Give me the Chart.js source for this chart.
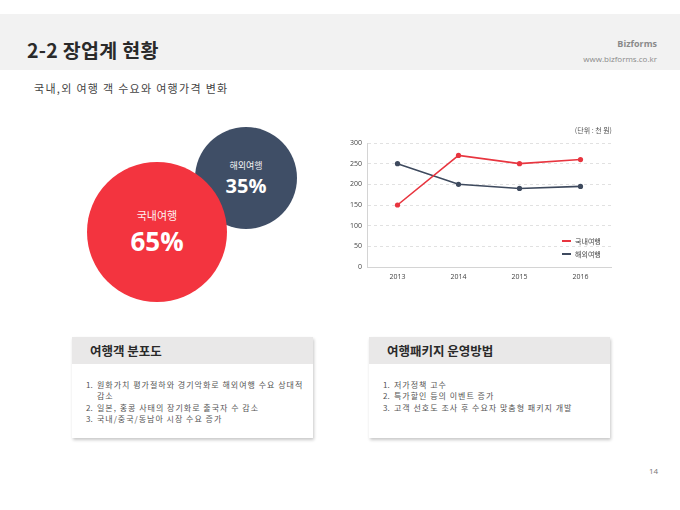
<!DOCTYPE html>
<html><head><meta charset="utf-8">
<script src="https://cdn.jsdelivr.net/npm/chart.js@4.4.1/dist/chart.umd.min.js"></script>
<style>
body{margin:0;width:680px;height:510px;background:#fff;position:relative;overflow:hidden;font-family:"Noto Sans CJK KR","Noto Sans",sans-serif;}
.abs{position:absolute;}
#band{left:0;top:14px;width:680px;height:56px;background:#F2F2F2;}
#title{left:27px;top:37px;font-size:19.5px;font-weight:bold;color:#2a2a2a;line-height:26px;white-space:nowrap;letter-spacing:0.3px;}
#brand{right:23px;top:38px;font-size:9px;font-weight:bold;color:#8a8a8a;line-height:12px;text-align:right;font-family:"Open Sans","Noto Sans",sans-serif;}
#url{right:23px;top:54px;font-size:8px;color:#8a8a8a;line-height:10px;text-align:right;font-family:"Open Sans","Noto Sans",sans-serif;}
#sub{left:34px;top:80px;font-size:11px;color:#444;line-height:16px;white-space:nowrap;letter-spacing:1.3px;}
.circle{position:absolute;border-radius:50%;color:#fff;text-align:center;}
.circle .lab{position:absolute;left:0;width:100%;white-space:nowrap;opacity:0.92;}
.circle .pct{position:absolute;left:0;width:100%;font-weight:bold;font-family:"Open Sans","Noto Sans",sans-serif;white-space:nowrap;}
#chartBox{left:330px;top:120px;width:290px;height:170px;}
#unit{right:68px;top:125px;font-size:7px;color:#555;line-height:10px;white-space:nowrap;}
#legend{left:562px;top:235px;font-size:7px;color:#444;line-height:12.5px;}
#legend .it{display:flex;align-items:center;white-space:nowrap;}
#legend .sw{display:inline-block;width:9px;height:2px;margin-right:4px;}
.card{position:absolute;width:241px;height:101px;background:#fff;box-shadow:1px 2px 3px rgba(0,0,0,0.22);}
.card .hd{height:27px;background:#E9E8E8;font-size:12.5px;font-weight:bold;color:#2a2a2a;line-height:27px;padding-left:18px;white-space:nowrap;}
.card ol{margin:0;padding:0;list-style:none;position:absolute;top:42px;left:14px;font-size:8px;color:#555;line-height:11.3px;letter-spacing:1px;}
.card li{position:relative;padding-left:11px;white-space:nowrap;}
.card li .n{position:absolute;left:0;top:0;letter-spacing:0;}
#page{left:649px;top:466px;font-size:8px;color:#777;line-height:10px;font-family:"Open Sans","Noto Sans",sans-serif;}
</style>
</head>
<body>
<div id="band" class="abs"></div>
<div id="title" class="abs">2-2 장업계 현황</div>
<div id="brand" class="abs">Bizforms</div>
<div id="url" class="abs">www.bizforms.co.kr</div>
<div id="sub" class="abs">국내,외 여행 객 수요와 여행가격 변화</div>

<div id="circles"></div>

<div id="chartBox" class="abs"><canvas id="c"></canvas></div>
<div id="unit" class="abs">(단위 : 천 원)</div>
<div id="legend" class="abs"></div>

<div class="card" style="left:72px;top:337px;">
  <div class="hd">여행객 분포도</div>
  <ol id="list1"></ol>
</div>
<div class="card" style="left:369px;top:337px;">
  <div class="hd">여행패키지 운영방법</div>
  <ol id="list2"></ol>
</div>
<div id="page" class="abs">14</div>

<script>
// ---- data ----
const years = ['2013', '2014', '2015', '2016'];
const domestic = [150, 270, 250, 260];
const overseas = [250, 200, 190, 195];
const seriesNames = ['국내여행', '해외여행'];
const seriesColors = ['#E8353F', '#3E4A5E'];
const yMin = 0, yMax = 300, yStep = 50;

const shareNames = ['국내여행', '해외여행'];
const shareValues = [65, 35];
const shareColors = ['#F3343F', '#3F4E66'];

const list1 = ['원화가치 평가절하와 경기악화로 해외여행 수요 상대적<br>감소', '일본, 홍콩 사태의 장기화로 출국자 수 감소', '국내/중국/동남아 시장 수요 증가'];
const list2 = ['저가정책 고수', '특가할인 등의 이벤트 증가', '고객 선호도 조사 후 수요자 맞춤형 패키지 개발'];

// ---- share circles (area proportional to share) ----
(function(){
  const k = 70 / Math.sqrt(65);
  const layout = [ {cx:157, cy:232, z:2, lab:11, pct:26}, {cx:246, cy:178, z:1, lab:9, pct:20} ];
  const host = document.getElementById('circles');
  shareValues.forEach((v, i) => {
    const r = k * Math.sqrt(v);
    const L = layout[i];
    const d = document.createElement('div');
    d.className = 'circle';
    d.style.left = (L.cx - r) + 'px';
    d.style.top = (L.cy - r) + 'px';
    d.style.width = (2 * r) + 'px';
    d.style.height = (2 * r) + 'px';
    d.style.background = shareColors[i];
    d.style.zIndex = L.z;
    const lab = document.createElement('div');
    lab.className = 'lab';
    lab.style.fontSize = L.lab + 'px';
    lab.style.lineHeight = '14px';
    lab.style.top = (r - (i === 0 ? 24 : 19)) + 'px';
    lab.textContent = shareNames[i];
    const pct = document.createElement('div');
    pct.className = 'pct';
    pct.style.fontSize = L.pct + 'px';
    pct.style.lineHeight = (L.pct + 4) + 'px';
    pct.style.top = (r - (i === 0 ? 6 : 4)) + 'px';
    pct.textContent = v + '%';
    d.appendChild(lab); d.appendChild(pct);
    host.appendChild(d);
  });
})();

// ---- lists ----
function fill(id, arr){
  const ol = document.getElementById(id);
  arr.forEach((t, i) => {
    const li = document.createElement('li');
    li.innerHTML = '<span class="n">' + (i + 1) + '.</span>' + t;
    ol.appendChild(li);
  });
}
fill('list1', list1);
fill('list2', list2);

// ---- legend ----
(function(){
  const lg = document.getElementById('legend');
  seriesNames.forEach((n, i) => {
    const it = document.createElement('div');
    it.className = 'it';
    it.innerHTML = '<span class="sw" style="background:' + seriesColors[i] + '"></span><span>' + n + '</span>';
    lg.appendChild(it);
  });
})();

// ---- line chart ----
const seriesData = [domestic, overseas];
new Chart(document.getElementById('c'), {
  type: 'line',
  data: {
    labels: years,
    datasets: seriesNames.map((n, i) => ({
      label: n,
      data: seriesData[i],
      borderColor: seriesColors[i],
      backgroundColor: seriesColors[i],
      borderWidth: 1.6,
      pointRadius: 2.6,
      pointHoverRadius: 2.6,
      pointBorderWidth: 0,
      tension: 0,
      fill: false
    }))
  },
  options: {
    responsive: true,
    maintainAspectRatio: false,
    animation: false,
    layout: { padding: { top: 23, right: 9, left: 0, bottom: 0 } },
    plugins: { legend: { display: false }, tooltip: { enabled: false } },
    scales: {
      x: {
        offset: true,
        grid: { display: false, drawTicks: false },
        border: { display: true, color: '#D4D4D4', width: 1 },
        ticks: { color: '#444', font: { size: 7, family: 'Open Sans, Noto Sans, sans-serif' }, padding: 6 },
        afterFit: (s) => { s.height = 23; }
      },
      y: {
        min: yMin, max: yMax,
        grid: { color: '#DADADA', lineWidth: 0.8, drawTicks: false },
        border: { display: true, color: '#D4D4D4', width: 1, dash: [3, 3] },
        ticks: { stepSize: yStep, color: '#444', font: { size: 7, family: 'Open Sans, Noto Sans, sans-serif' }, padding: 5 },
        afterFit: (s) => { s.width = 37; }
      }
    }
  }
});
</script>
</body></html>
